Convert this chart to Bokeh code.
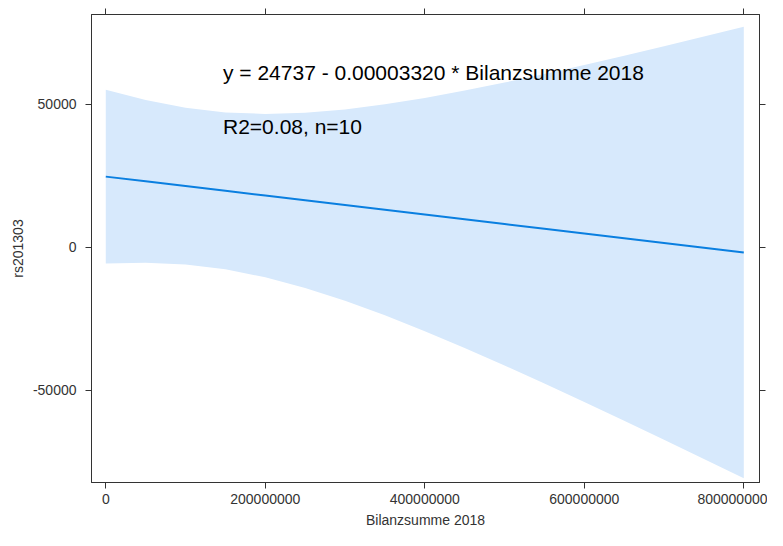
from bokeh.plotting import figure
from bokeh.models import FixedTicker, LinearAxis, Range1d
from bokeh.core.properties import value
from bokeh.embed import file_html
from bokeh.resources import INLINE

# ---- data ----
x_vals = [0, 50e6, 100e6, 150e6, 200e6, 250e6, 300e6, 350e6, 400e6,
          450e6, 500e6, 550e6, 600e6, 650e6, 700e6, 750e6, 800e6]
fit_vals = [24737, 23077, 21417, 19757, 18097, 16437, 14777, 13117, 11457,
            9797, 8137, 6477, 4817, 3157, 1497, -163, -1823]
upper_vals = [55166, 51514, 48827, 47211, 46667, 47075, 48262, 50045, 52276,
              54837, 57645, 60637, 63771, 67014, 70344, 73742, 77195]
lower_vals = [-5692, -5360, -5993, -7697, -10473, -14201, -18708, -23811, -29362,
              -35243, -41371, -47683, -54137, -60700, -67350, -74068, -80841]

x_ticks = [0, 200000000, 400000000, 600000000, 800000000]
x_tick_labels = ["0", "200000000", "400000000", "600000000", "800000000"]
y_ticks = [-50000, 0, 50000]
y_tick_labels = ["-50000", "0", "50000"]

note_texts = ["y = 24737 - 0.00003320 * Bilanzsumme 2018", "R2=0.08, n=10"]
note_x = [147e6, 147e6]
note_y = [61300, 42240]

x_label = "Bilanzsumme 2018"
y_label = "rs201303"

FONT = "Liberation Sans"
AXIS_COL = "#333333"

p = figure(width=767, height=530, output_backend="svg", toolbar_location=None,
           x_range=Range1d(-17.9e6, 819.7e6), y_range=Range1d(-82300, 81470),
           min_border_left=91, min_border_right=8, min_border_top=14,
           min_border_bottom=0)

bottom_axis = p.below[0]
left_axis = p.left[0]

p.xgrid.visible = False
p.ygrid.visible = False
p.outline_line_color = AXIS_COL
p.outline_line_width = 1

p.varea(x=x_vals, y1=lower_vals, y2=upper_vals, fill_color="#d7e9fc", fill_alpha=1.0)
p.line(x=x_vals, y=fit_vals, line_color="#0a7fe0", line_width=2)

p.text(x=note_x, y=note_y, text=note_texts, text_font=value(FONT),
       text_font_size="21px", text_color="black", text_baseline="alphabetic",
       text_align="left")

top_axis = LinearAxis(ticker=FixedTicker(ticks=x_ticks, minor_ticks=[]),
                      major_label_overrides={t: "" for t in x_ticks},
                      major_label_text_font_size="5px",
                      major_tick_out=6, major_tick_in=0,
                      minor_tick_out=0, minor_tick_in=0,
                      axis_line_color=AXIS_COL, major_tick_line_color=AXIS_COL,
                      major_label_standoff=0)
right_axis = LinearAxis(ticker=FixedTicker(ticks=y_ticks, minor_ticks=[]),
                        major_label_overrides={t: "" for t in y_ticks},
                        major_label_text_font_size="5px",
                        major_tick_out=6, major_tick_in=0,
                        minor_tick_out=0, minor_tick_in=0,
                        axis_line_color=AXIS_COL, major_tick_line_color=AXIS_COL,
                        major_label_standoff=0)
p.add_layout(top_axis, "above")
p.add_layout(right_axis, "right")

for ax, ticks, labels in [(bottom_axis, x_ticks, x_tick_labels),
                          (left_axis, y_ticks, y_tick_labels)]:
    ax.ticker = FixedTicker(ticks=ticks, minor_ticks=[])
    ax.major_label_overrides = {t: l for t, l in zip(ticks, labels)}
    ax.major_tick_out = 6
    ax.major_tick_in = 0
    ax.minor_tick_out = 0
    ax.minor_tick_in = 0
    ax.axis_line_color = AXIS_COL
    ax.major_tick_line_color = AXIS_COL
    ax.major_label_text_font = FONT
    ax.major_label_text_font_size = "14px"
    ax.major_label_text_color = AXIS_COL
    ax.axis_label_text_font = FONT
    ax.axis_label_text_font_size = "14px"
    ax.axis_label_text_font_style = "normal"
    ax.axis_label_text_color = AXIS_COL

bottom_axis.axis_label = x_label
bottom_axis.major_label_standoff = 5
bottom_axis.axis_label_standoff = 5
left_axis.axis_label = y_label
left_axis.major_label_standoff = 9
left_axis.axis_label_standoff = 4

open("out.html", "w").write(file_html(p, INLINE))
